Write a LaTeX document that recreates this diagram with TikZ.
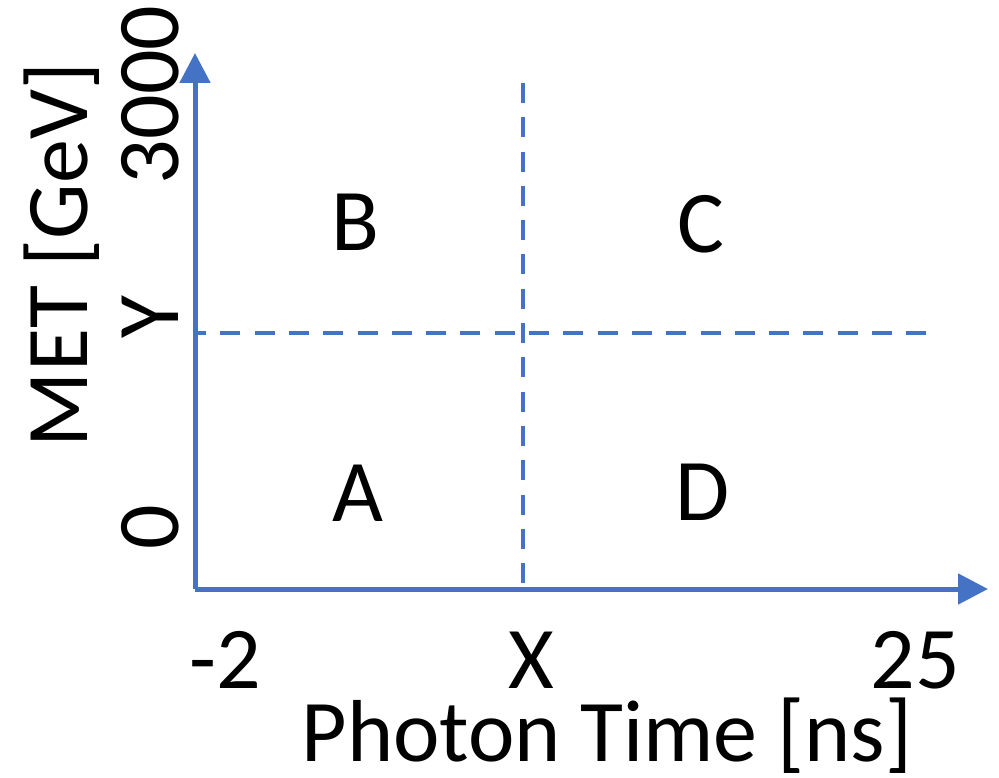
\documentclass[tikz,border=0pt]{standalone}
\usepackage{fontspec}
\setmainfont{Carlito}
\usetikzlibrary{arrows.meta}
\definecolor{axisblue}{HTML}{4472C4}
\begin{document}
\begin{tikzpicture}[x=1pt, y=-1pt, font=\fontsize{88}{96}\selectfont,
      axis/.style={draw=axisblue, line width=5pt, -{Triangle[length=30pt, width=30pt]}},
      cut/.style={draw=axisblue, line width=4.5pt, dash pattern=on 20pt off 14.3pt},
      lbl/.style={inner sep=0pt, anchor=base},
      reg/.style={inner sep=0pt}]
    \useasboundingbox (0,0) rectangle (999,778);
    % axes
    \coordinate (orig) at (195,589);
    \coordinate (xtip) at (988,589);
    \coordinate (ytip) at (195,53);
    \draw[axis] (orig) -- (xtip);
    \draw[axis] (orig) -- (ytip);
    % cuts
    \coordinate (xcut0) at (523,589);
    \coordinate (xcut1) at (523,83);
    \coordinate (ycut0) at (198,333);
    \coordinate (ycut1) at (932,333);
    \draw[cut] (xcut1) -- (xcut0);
    \draw[cut, dash phase=12pt] (ycut0) -- (ycut1);
    % regions
    \node[reg] (A) at (358,493) {A};
    \node[reg] (B) at (355,222) {B};
    \node[reg] (C) at (701,224) {C};
    \node[reg] (D) at (703,492) {D};
    % tick labels
    \node[lbl] (xmin) at (225,688) {-2};
    \node[lbl] (xval) at (531,688) {X};
    \node[lbl] (xmax) at (915,688) {25};
    \node[lbl, rotate=90] (ymin) at (178,527) {0};
    \node[lbl, rotate=90] (yval) at (178,317) {Y};
    \node[lbl, rotate=90] (ymax) at (178,95) {3000};
    % axis titles
    \node[lbl] (xtitle) at (607,761) {Photon Time [ns]};
    \node[lbl, rotate=90] (ytitle) at (87,255) {MET [GeV]};
\end{tikzpicture}
\end{document}
